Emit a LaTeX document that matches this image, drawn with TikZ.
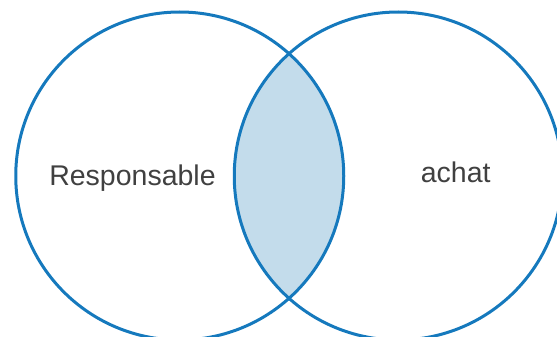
\documentclass[tikz,border=0pt]{standalone}
\usepackage{fontspec}
\setmainfont{Liberation Sans}
\definecolor{ringblue}{HTML}{1579BD}
\definecolor{lensfill}{HTML}{C3DCEB}
\definecolor{labelgray}{HTML}{404040}
\tikzset{
  ring/.style={draw=ringblue, line width=3pt},
  setlabel/.style={anchor=base, text=labelgray, font=\fontsize{28.5pt}{30pt}\selectfont, inner sep=0pt}
}
\begin{document}
\begin{tikzpicture}[x=1pt,y=-1pt]
\useasboundingbox (0,0) rectangle (557,337);
\clip (0,0) rectangle (557,337);
\coordinate (cl) at (179.75,176);
\coordinate (cr) at (398.25,176);
\begin{scope}
  \clip (cl) circle[radius=164pt];
  \fill[lensfill] (cr) circle[radius=164pt];
\end{scope}
\draw[ring] (cl) circle[radius=164pt];
\draw[ring] (cr) circle[radius=164pt];
\node[setlabel] (resp) at (132.5,185) {Responsable};
\node[setlabel] (achat) at (455.7,182) {achat};
\end{tikzpicture}
\end{document}
